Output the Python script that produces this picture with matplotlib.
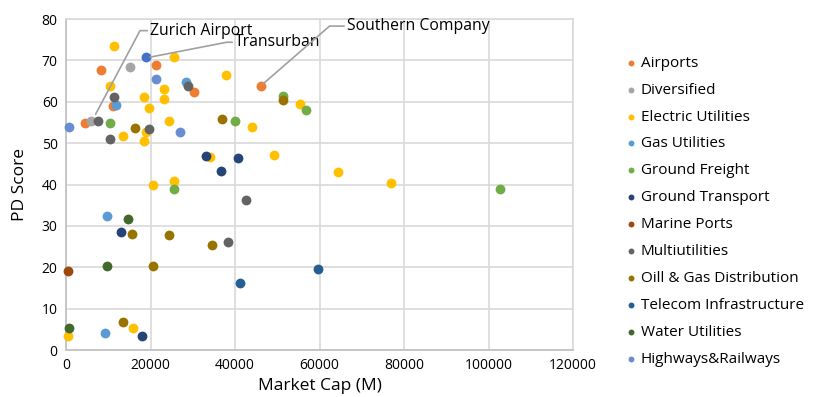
import matplotlib
matplotlib.use("Agg")
import matplotlib.pyplot as plt

plt.rcParams['font.family'] = ['Open Sans', 'DejaVu Sans']

# market cap (M), PD score per sector
airports_x = [4500, 8300, 11100, 21300, 30300, 46150]
airports_y = [54.8, 67.6, 58.9, 68.8, 62.3, 63.8]
diversified_x = [15150, 5900]
diversified_y = [68.4, 55.3]
electric_x = [11360, 25560, 37870, 10400, 23200, 18460, 23200, 19650, 24380, 55390, 44030,
              13490, 18930, 18460, 34090, 49230, 64380, 76930, 20590, 25560, 15860, 470]
electric_y = [73.4, 70.8, 66.4, 63.8, 63.0, 61.1, 60.6, 58.4, 55.3, 59.4, 53.9,
              51.7, 52.7, 50.5, 46.6, 47.1, 43.0, 40.3, 39.9, 40.8, 5.3, 3.4]
gas_x = [28400, 11830, 9700, 9230]
gas_y = [64.7, 59.2, 32.4, 4.1]
freight_x = [10400, 40000, 51360, 56800, 25560, 102700]
freight_y = [54.8, 55.3, 61.4, 58.0, 38.9, 38.9]
transport_x = [33140, 40710, 36690, 13020, 18000]
transport_y = [46.9, 46.4, 43.2, 28.5, 3.4]
marine_x = [470]
marine_y = [19.1]
multi_x = [7570, 11360, 28880, 10410, 19650, 42600, 38350]
multi_y = [55.3, 61.1, 63.8, 51.0, 53.4, 36.2, 26.1]
oilgas_x = [16330, 36930, 51360, 15620, 24380, 34560, 20590, 13490]
oilgas_y = [53.6, 55.8, 60.4, 28.0, 27.8, 25.4, 20.3, 6.8]
telecom_x = [59650, 41190]
telecom_y = [19.6, 16.2]
water_x = [14680, 9700, 710]
water_y = [31.6, 20.3, 5.3]
highways_x = [700, 21300, 26980]
highways_y = [53.9, 65.5, 52.7]
tollroads_x = [18930]
tollroads_y = [70.8]

series = [
    ("Airports", airports_x, airports_y, "#ED7D31"),
    ("Diversified", diversified_x, diversified_y, "#A5A5A5"),
    ("Electric Utilities", electric_x, electric_y, "#FFC000"),
    ("Gas Utilities", gas_x, gas_y, "#5B9BD5"),
    ("Ground Freight", freight_x, freight_y, "#70AD47"),
    ("Ground Transport", transport_x, transport_y, "#264478"),
    ("Marine Ports", marine_x, marine_y, "#9E480E"),
    ("Multiutilities", multi_x, multi_y, "#636363"),
    ("Oill & Gas Distribution", oilgas_x, oilgas_y, "#997300"),
    ("Telecom Infrastructure", telecom_x, telecom_y, "#255E91"),
    ("Water Utilities", water_x, water_y, "#43682B"),
    ("Highways&Railways", highways_x, highways_y, "#698ED0"),
]

fig = plt.figure(figsize=(8.13, 3.97), dpi=100)
ax = fig.add_axes([0.0812, 0.118, 0.6236, 0.834])

ax.scatter(tollroads_x, tollroads_y, s=50, color="#4472C4", label="_nolegend_",
           zorder=3, clip_on=False, linewidths=0)
for name, xs, ys, col in series:
    ax.scatter(xs, ys, s=50, color=col, label=name, zorder=3, clip_on=False, linewidths=0)

ax.set_xlim(0, 120000)
ax.set_ylim(0, 80)
ax.set_xticks(range(0, 120001, 20000))
ax.set_yticks(range(0, 81, 10))
ax.grid(True, color="#D9D9D9", linewidth=1.2)
ax.set_axisbelow(True)
for sp in ax.spines.values():
    sp.set_color("#D9D9D9")
    sp.set_linewidth(1.2)
ax.spines['left'].set_color("#BFBFBF")
ax.spines['bottom'].set_color("#BFBFBF")
ax.tick_params(length=0, labelsize=10, colors="#000000", pad=6)
ax.set_xlabel("Market Cap (M)", fontsize=12.5, labelpad=3)
ax.set_ylabel("PD Score", fontsize=12.5, labelpad=10)

line_kw = dict(arrowstyle="-", color="#A0A0A0", lw=1.2, shrinkA=0, shrinkB=0)
ax.annotate("Zurich Airport", xy=(7000, 57.0), xytext=(19900, 77.2), fontsize=11.3,
            va="center", ha="left",
            arrowprops=dict(connectionstyle="angle,angleA=0,angleB=62", **line_kw))
ax.annotate("Transurban", xy=(19900, 70.8), xytext=(40000, 74.4), fontsize=11.3,
            va="center", ha="left",
            arrowprops=dict(connectionstyle="angle,angleA=0,angleB=11", **line_kw))
ax.annotate("Southern Company", xy=(46600, 64.3), xytext=(66500, 78.3), fontsize=11.3,
            va="center", ha="left",
            arrowprops=dict(connectionstyle="angle,angleA=0,angleB=41", **line_kw))

fig.legend(loc="upper left", bbox_to_anchor=(0.758, 0.875), frameon=False,
           fontsize=11, handletextpad=0.1, labelspacing=0.78, markerscale=0.6,
           borderaxespad=0, handlelength=1.1)

fig.savefig("out.png", dpi=100)
